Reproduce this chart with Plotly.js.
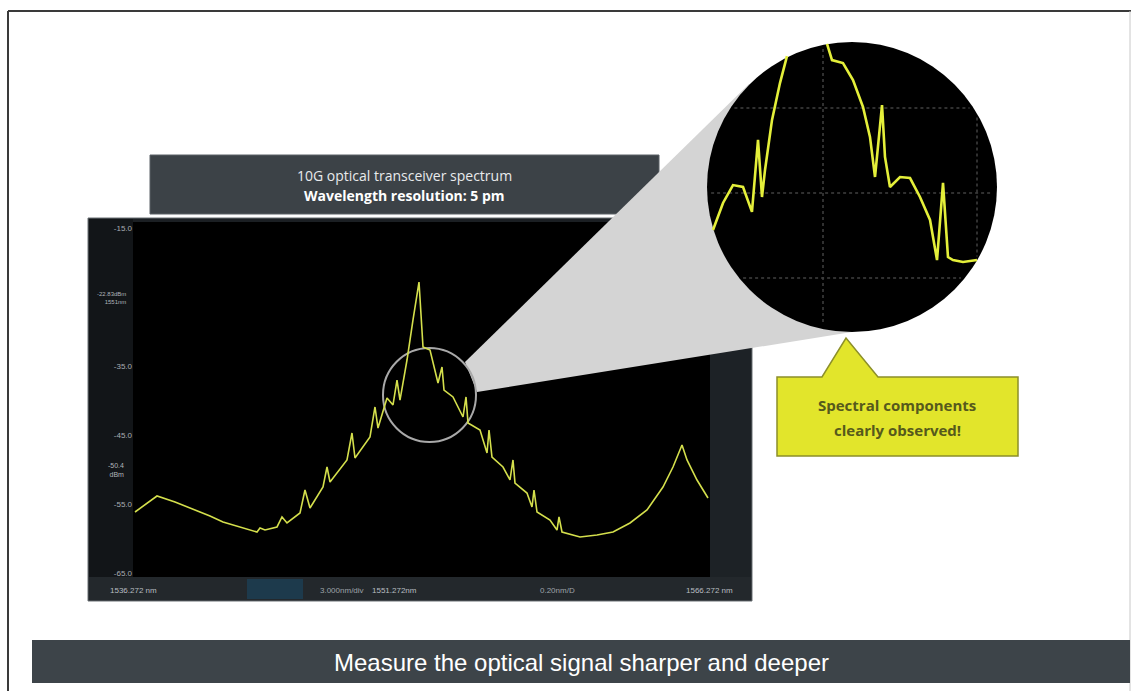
<!DOCTYPE html>
<html><head><meta charset="utf-8">
<script src="https://cdn.plot.ly/plotly-3.0.1.min.js"></script>
<style>html,body{margin:0;padding:0;background:#fff;}#chart{width:1139px;height:691px;}</style>
</head><body><div id="chart"></div>
<script>
// ---- data ----
const wavelengthNm = [1536.376,1537.520,1538.456,1539.236,1540.275,1540.951,1541.835,1542.719,1542.875,1543.135,
  1543.759,1544.019,1544.279,1544.955,1545.215,1545.475,1546.151,1546.359,1546.515,1547.398,
  1547.658,1547.814,1548.594,1548.854,1549.010,1549.478,1549.790,1549.998,1550.154,1550.518,
  1550.830,1551.142,1551.350,1551.714,1552.130,1552.338,1552.442,1552.910,1553.430,1553.586,
  1553.690,1554.314,1554.678,1554.782,1554.937,1555.509,1555.873,1556.029,1556.133,1556.757,
  1557.017,1557.121,1557.277,1557.953,1558.317,1558.421,1558.577,1559.513,1560.397,1561.229,
  1562.113,1562.996,1563.828,1564.348,1564.816,1565.076,1565.596,1566.168];
const powerDbm = [-56.16,-53.84,-54.71,-55.58,-56.74,-57.61,-58.33,-59.06,-58.48,-58.77,
  -58.33,-56.88,-57.75,-56.30,-52.97,-55.58,-52.54,-49.64,-51.81,-48.62,
  -44.71,-48.33,-45.29,-40.94,-43.99,-39.64,-40.65,-37.03,-39.93,-34.13,
  -28.33,-22.83,-32.25,-32.68,-37.46,-35.14,-38.48,-39.49,-42.39,-39.49,
  -43.26,-44.28,-47.61,-44.28,-48.19,-49.64,-51.52,-48.62,-51.96,-53.41,
  -55.43,-52.97,-56.16,-57.32,-58.77,-56.88,-59.06,-59.78,-59.49,-59.06,
  -57.75,-55.87,-52.54,-49.64,-46.45,-48.62,-51.52,-54.13];
const zoomWavelengthNm = [1549.371,1549.540,1549.708,1549.877,1550.028,1550.130,1550.197,1550.248,1550.366,1550.500,
  1550.618,null,1551.293,1551.377,1551.562,1551.731,1551.899,1552.017,1552.102,1552.220,
  1552.270,1552.354,1552.523,1552.692,1552.860,1553.029,1553.147,1553.248,1553.332,1553.416,
  1553.585,1553.821];
const zoomPowerDbm = [-41.22,-39.95,-39.11,-39.20,-40.37,-36.99,-39.67,-38.40,-36.05,-34.32,
  -33.05,null,-32.48,-33.24,-33.38,-34.18,-35.44,-36.85,-38.73,-35.35,
  -37.79,-39.20,-38.73,-38.78,-39.67,-40.75,-42.63,-39.01,-42.49,-42.63,
  -42.72,-42.63];
const xRangeNm = [1536.272, 1566.272];
const yRangeDbm = [-65.58, -14.13];
const zoomXRangeNm = [1549.270, 1554.158];
const zoomYRangeDbm = [-46.01, -32.39];
const yTickVals = [-15, -35, -45, -55, -65];
const yTickText = ['-15.0', '-35.0', '-45.0', '-55.0', '-65.0'];
const bottomLabels = ['1536.272 nm', '3.000nm/div', '1551.272nm', '0.20nm/D', '1566.272 nm'];
const titleLines = ['10G optical transceiver spectrum', 'Wavelength resolution: 5 pm'];
const calloutLines = ['Spectral components', 'clearly observed!'];
const bannerText = 'Measure the optical signal sharper and deeper';

// ---- layout helpers ----
const W = 1139, H = 691;
const X = p => p / W, Y = p => 1 - p / H;
const rect = (x0, y0, x1, y1, fill, line, lw) => ({type:'rect', xref:'paper', yref:'paper', layer:'below',
  x0:X(x0), x1:X(x1), y0:Y(y1), y1:Y(y0), fillcolor:fill, line:{color:line||'rgba(0,0,0,0)', width:lw||0}});
const path = (pts, fill, line, lw) => ({type:'path', xref:'paper', yref:'paper', layer:'below',
  path: pts.map((p,i)=>(i?'L':'M')+X(p[0])+','+Y(p[1])).join(' ')+' Z',
  fillcolor:fill, line:{color:line||'rgba(0,0,0,0)', width:lw||0}});
const seg = (x0,y0,x1,y1,color,w,dash) => ({type:'line', xref:'paper', yref:'paper', layer:'below',
  x0:X(x0), x1:X(x1), y0:Y(y0), y1:Y(y1), line:{color:color, width:w, dash:dash||'solid'}});

const BIG = {cx:852, cy:187, r:145};
const shapes = [];
// outer frame
shapes.push(seg(8,11,1131,11,'#3a3a3a',2));
shapes.push(seg(8,11,8,700,'#3a3a3a',2));
shapes.push(seg(1130,11,1130,700,'#c8c8c8',1));
// title box
shapes.push(rect(150,155,659,214,'#3c4247','#5a6066',1));
shapes.push(path([[626,214],[659,178],[659,214]],'#c9cdd1'));
// chart panel
shapes.push(rect(88,218,752,601,'#1b1f23','#6b7075',1));
shapes.push(rect(89,219,133,577,'#121518'));
shapes.push(rect(133,222,710,577,'#000000'));
shapes.push(rect(710,219,751,577,'#1d2226'));
shapes.push(rect(89,577,751,600,'#23282c'));
shapes.push(rect(247,579,303,599,'#1d3a4c'));
// wedge
shapes.push(path([[465,362],[749,84],[852,332],[477,392]],'#d4d4d4'));
// small circle
shapes.push({type:'circle', xref:'paper', yref:'paper', layer:'below',
  x0:X(383), x1:X(476), y0:Y(442), y1:Y(348), line:{color:'#a9a9a9', width:2}, fillcolor:'rgba(0,0,0,0)'});
// big circle
shapes.push({type:'circle', xref:'paper', yref:'paper', layer:'below',
  x0:X(BIG.cx-BIG.r), x1:X(BIG.cx+BIG.r), y0:Y(BIG.cy+BIG.r), y1:Y(BIG.cy-BIG.r),
  line:{color:'#000', width:0}, fillcolor:'#000'});
// dotted grid inside big circle (chords)
[108,193,278].forEach(y=>{const d=Math.sqrt(BIG.r*BIG.r-(y-BIG.cy)**2)-4;
  shapes.push(seg(BIG.cx-d,y,BIG.cx+d,y,'#404040',1.5,'dot'));});
[823,977].forEach(x=>{const d=Math.sqrt(BIG.r*BIG.r-(x-BIG.cx)**2)-4;
  shapes.push(seg(x,BIG.cy-d,x,BIG.cy+d,'#404040',1.5,'dot'));});
// callout
shapes.push(path([[777,377],[822,377],[846,338],[878,377],[1018,377],[1018,456],[777,456]],'#e2e52b','#8c8f2a',1.5));
// banner
shapes.push(rect(32,640,1130,683,'#3d4449'));

const ann = [];
const txt = (x,y,t,size,color,anchor,bold,family) => ann.push({xref:'paper', yref:'paper', x:X(x), y:Y(y),
  text: bold?'<b>'+t+'</b>':t, showarrow:false, xanchor:anchor||'center', yanchor:'middle',
  font:{size:size, color:color, family:family||'Liberation Sans, Arial, sans-serif'}});
txt(404,175,titleLines[0],14,'#e8eaec','center',false,'Open Sans, sans-serif');
txt(404,195,titleLines[1],14,'#ffffff','center',true,'Open Sans, sans-serif');
txt(897,405,calloutLines[0],15,'#56591c','center',true,'Open Sans, sans-serif');
txt(897,430,calloutLines[1],15,'#56591c','center',true,'Open Sans, sans-serif');
txt(581,662,bannerText,24,'#ffffff');
// bottom strip labels
txt(108,590,bottomLabels[0],8,'#b8bcc0','left');
txt(318,590,bottomLabels[1],8,'#9ea3a8','left');
txt(370,590,bottomLabels[2],8,'#b8bcc0','left');
txt(538,590,bottomLabels[3],8,'#9ea3a8','left');
txt(735,590,bottomLabels[4],8,'#b8bcc0','right');
// marker readouts on the left strip
ann.push({xref:'paper', yref:'paper', x:X(128), y:Y(298), text:'-22.83dBm<br>1551nm', showarrow:false,
  xanchor:'right', yanchor:'middle', align:'right', font:{size:6, color:'#b0b4b8', family:'Liberation Sans, Arial'}});
ann.push({xref:'paper', yref:'paper', x:X(126), y:Y(470), text:'-50.4<br>dBm', showarrow:false,
  xanchor:'right', yanchor:'middle', align:'right', font:{size:7, color:'#b0b4b8', family:'Liberation Sans, Arial'}});

const traces = [
  {x:wavelengthNm, y:powerDbm, type:'scatter', mode:'lines', xaxis:'x', yaxis:'y',
   line:{color:'#d4df4c', width:1.6}, hoverinfo:'skip'},
  {x:zoomWavelengthNm, y:zoomPowerDbm, type:'scatter', mode:'lines', xaxis:'x2', yaxis:'y2',
   connectgaps:false, line:{color:'#e4ef3a', width:2.6}, hoverinfo:'skip'}
];

const layout = {
  width:W, height:H, margin:{l:0,r:0,t:0,b:0}, paper_bgcolor:'#ffffff', plot_bgcolor:'rgba(0,0,0,0)',
  showlegend:false,
  xaxis:{domain:[X(133),X(710)], range:xRangeNm, showgrid:false, zeroline:false, showticklabels:false, ticks:'', showline:false, fixedrange:true},
  yaxis:{domain:[Y(577),Y(222)], range:yRangeDbm, showgrid:false, zeroline:false, showline:false, ticks:'',
    tickvals:yTickVals, ticktext:yTickText, tickfont:{size:8, color:'#a8adb2', family:'Liberation Sans, Arial'}, fixedrange:true},
  xaxis2:{domain:[X(BIG.cx-BIG.r),X(BIG.cx+BIG.r)], range:zoomXRangeNm, anchor:'y2', visible:false},
  yaxis2:{domain:[Y(BIG.cy+BIG.r),Y(BIG.cy-BIG.r)], range:zoomYRangeDbm, anchor:'x2', visible:false},
  shapes:shapes, annotations:ann
};
Plotly.newPlot('chart', traces, layout, {staticPlot:true, displayModeBar:false});
</script></body></html>
